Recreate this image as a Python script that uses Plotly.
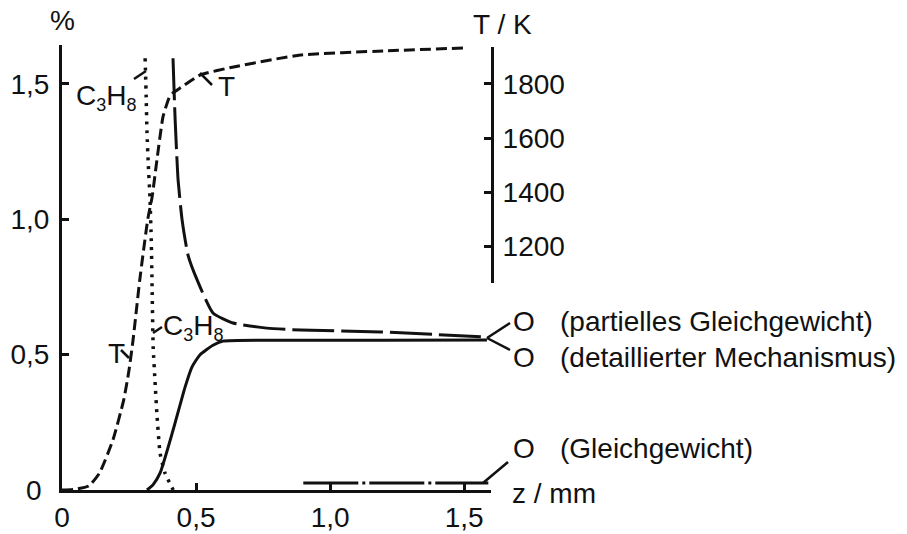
import plotly.graph_objects as go

# ---- data ----
z_T = [0.0, 0.05, 0.10, 0.14, 0.19, 0.23, 0.25, 0.265, 0.29, 0.32, 0.336, 0.354, 0.377, 0.40, 0.414, 0.44, 0.515, 0.64, 0.89, 1.2, 1.5]
T_K = [300, 303, 315, 363, 485, 632, 743, 854, 1076, 1301, 1382, 1519, 1680, 1750, 1767, 1785, 1833, 1863, 1907, 1922, 1933]

z_C3H8 = [0.310, 0.314, 0.317, 0.322, 0.328, 0.333, 0.336, 0.340, 0.347, 0.354, 0.366, 0.384, 0.415]
C3H8 = [1.595, 1.45, 1.32, 1.20, 1.08, 0.92, 0.75, 0.53, 0.40, 0.28, 0.135, 0.063, 0.0]

z_O_part = [0.414, 0.422, 0.433, 0.448, 0.470, 0.504, 0.563, 0.638, 0.764, 0.89, 1.19, 1.585]
O_part = [1.595, 1.367, 1.145, 0.997, 0.868, 0.776, 0.654, 0.617, 0.598, 0.591, 0.584, 0.565]

z_O_det = [0.317, 0.34, 0.366, 0.414, 0.459, 0.485, 0.515, 0.563, 0.60, 0.89, 1.2, 1.585]
O_det = [0.0, 0.02, 0.063, 0.22, 0.38, 0.455, 0.50, 0.535, 0.55, 0.553, 0.553, 0.554]

z_O_eq = [0.9, 1.59]
O_eq = [0.026, 0.026]

x_tickvals = [0, 0.5, 1.0, 1.5]
x_ticktext = ["0", "0,5", "1,0", "1,5"]
y_tickvals = [0, 0.5, 1.0, 1.5]
y_ticktext = ["0\u00a0", "0,5", "1,0", "1,5"]
T_tickvals = [1200, 1400, 1600, 1800]

# ---- layout geometry ----
W, H = 907, 534
L, R, TOP, B = 62, 416, 45, 44
PW, PH = W - L - R, H - TOP - B
X_MAX = 1.6
Y_MAX = 1.644
T_RANGE = [300, 300 + 1000 * Y_MAX]
FONT = "Liberation Sans, Arial, sans-serif"
FS = 28
BLACK = "#111111"


def px(xp):
    return (xp - L) / PW


def py(yp):
    return (H - B - yp) / PH


fig = go.Figure()
lw = 3
fig.add_trace(go.Scatter(x=z_T, y=T_K, yaxis="y2", mode="lines", hoverinfo="skip",
                         line=dict(color=BLACK, width=lw, dash="11px,5px", shape="spline", smoothing=0.5)))
fig.add_trace(go.Scatter(x=z_C3H8, y=C3H8, mode="lines", hoverinfo="skip",
                         line=dict(color=BLACK, width=3.5, dash="3px,6px", shape="spline", smoothing=0.5)))
fig.add_trace(go.Scatter(x=z_O_part, y=O_part, mode="lines", hoverinfo="skip",
                         line=dict(color=BLACK, width=lw, dash="42px,7px", shape="spline", smoothing=0.5)))
fig.add_trace(go.Scatter(x=z_O_det, y=O_det, mode="lines", hoverinfo="skip",
                         line=dict(color=BLACK, width=lw, shape="spline", smoothing=0.5)))
fig.add_trace(go.Scatter(x=z_O_eq, y=O_eq, mode="lines", hoverinfo="skip",
                         line=dict(color=BLACK, width=lw, dash="55px,4px,3px,4px")))
# empty carrier trace so the short T/K axis is drawn
fig.add_trace(go.Scatter(x=[None], y=[None], yaxis="y3", mode="lines", hoverinfo="skip"))

# leader lines (pixel positions -> paper)
leaders = [
    ((134, 79), (146, 71)),
    ((200, 73), (212, 85)),
    ((121, 350), (129, 358)),
    ((153, 333), (162, 327)),
    ((487, 338), (510, 323)),
    ((487, 338), (510, 350)),
    ((483, 483), (508, 462)),
]
for (x0, y0), (x1, y1) in leaders:
    fig.add_shape(type="line", xref="paper", yref="paper",
                  x0=px(x0), y0=py(y0), x1=px(x1), y1=py(y1),
                  line=dict(color=BLACK, width=2.5))

SUB = "<sub><span style='font-size:18px'>{}</span></sub>"
C3H8_TXT = "C" + SUB.format("3") + "H" + SUB.format("8")
texts = [
    (C3H8_TXT, 74, 97, "left"),
    ("T", 216, 87, "left"),
    ("T", 106, 353, "left"),
    (C3H8_TXT, 161, 327, "left"),
    ("O", 511, 322, "left"),
    ("(partielles Gleichgewicht)", 558, 322, "left"),
    ("O", 511, 357, "left"),
    ("(detaillierter Mechanismus)", 558, 357, "left"),
    ("O", 511, 448, "left"),
    ("(Gleichgewicht)", 558, 448, "left"),
    ("z / mm", 510, 493, "left"),
    ("T / K", 471, 24, "left"),
    ("%", 62, 20, "center"),
]
for t, x, y, anc in texts:
    fig.add_annotation(text=t, xref="paper", yref="paper", x=px(x), y=py(y),
                       xanchor=anc, yanchor="middle", showarrow=False,
                       font=dict(family=FONT, size=FS, color=BLACK))

axis_common = dict(showgrid=False, zeroline=False, showline=True, linecolor=BLACK,
                   linewidth=3, ticks="inside", ticklen=7, tickwidth=2.5, tickcolor=BLACK,
                   automargin=False, tickfont=dict(family=FONT, size=FS, color=BLACK))

d0, d1 = py(283), py(47)
t0 = T_RANGE[0] + (T_RANGE[1] - T_RANGE[0]) * d0
t1 = T_RANGE[0] + (T_RANGE[1] - T_RANGE[0]) * d1

fig.update_layout(
    width=W, height=H,
    margin=dict(l=L, r=R, t=TOP, b=B, pad=0, autoexpand=False),
    paper_bgcolor="white", plot_bgcolor="rgba(0,0,0,0)",
    showlegend=False,
    xaxis=dict(range=[0, X_MAX], tickvals=x_tickvals, ticktext=x_ticktext, **axis_common),
    yaxis=dict(range=[0, Y_MAX], tickvals=y_tickvals, ticktext=y_ticktext,
               ticklabelstandoff=4, **axis_common),
    yaxis2=dict(range=T_RANGE, overlaying="y", visible=False),
    yaxis3=dict(domain=[d0, d1], range=[t0, t1], anchor="x", side="right",
                tickvals=T_tickvals, ticklabelstandoff=3, **axis_common),
)

fig.write_html("out.html", config={"displayModeBar": False},
               post_script="document.body.style.margin='0';document.body.style.overflow='hidden';")
